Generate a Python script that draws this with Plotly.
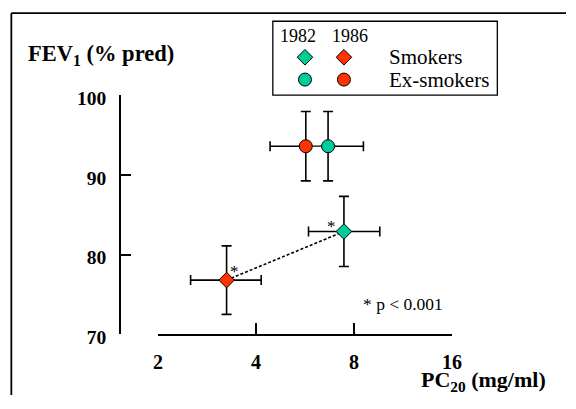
import math
import plotly.graph_objects as go

# ---- data -------------------------------------------------------------
# PC20 (mg/ml) and FEV1 (% predicted), order: [1982, 1986]
smokers_pc20 = [7.45, 3.25]
smokers_pc20_lo = [5.80, 2.52]
smokers_pc20_hi = [9.60, 4.15]
smokers_fev1 = [82.9, 76.8]
smokers_fev1_err = [4.4, 4.3]

exsmokers_pc20 = [6.66, 5.69]
exsmokers_pc20_lo = [6.66, 4.42]   # 1982 whisker drawn to the right only
exsmokers_pc20_hi = [8.55, 5.69]   # 1986 whisker drawn to the left only
exsmokers_fev1 = [93.6, 93.6]
exsmokers_fev1_err = [4.35, 4.35]

years = ["1982", "1986"]
groups = ["Smokers", "Ex-smokers"]
x_ticks = [2, 4, 8, 16]
y_ticks = [70, 80, 90, 100]

# ---- styling ------------------------------------------------------------
W, H = 576, 409
GREEN = "#00CC99"
RED = "#FF3300"
year_colors = [GREEN, RED]
FONT = "Liberation Serif"


def px(x):
    return x / W


def py(y):
    return 1 - y / H


fig = go.Figure()

# dotted link between the two smokers' measurements
fig.add_trace(go.Scatter(
    x=smokers_pc20[::-1], y=smokers_fev1[::-1], mode="lines",
    line=dict(color="black", width=1.6, dash="3px,2px"),
    hoverinfo="skip", showlegend=False, cliponaxis=False))

# thin link between the two ex-smokers' markers
fig.add_trace(go.Scatter(
    x=exsmokers_pc20, y=exsmokers_fev1, mode="lines",
    line=dict(color="black", width=1.2),
    hoverinfo="skip", showlegend=False, cliponaxis=False))


def group_trace(xs, lo, hi, ys, yerr, symbol, size, name):
    return go.Scatter(
        x=xs, y=ys, mode="markers", name=name,
        marker=dict(symbol=symbol, size=size, color=year_colors,
                    line=dict(color="black", width=1)),
        error_x=dict(type="data", symmetric=False,
                     array=[h - x for h, x in zip(hi, xs)],
                     arrayminus=[x - l for l, x in zip(lo, xs)],
                     color="black", thickness=1.6, width=5),
        error_y=dict(type="data", array=yerr, color="black",
                     thickness=1.6, width=5),
        showlegend=False, cliponaxis=False)


fig.add_trace(group_trace(exsmokers_pc20, exsmokers_pc20_lo, exsmokers_pc20_hi,
                          exsmokers_fev1, exsmokers_fev1_err,
                          "circle", 13, groups[1]))
fig.add_trace(group_trace(smokers_pc20, smokers_pc20_lo, smokers_pc20_hi,
                          smokers_fev1, smokers_fev1_err,
                          "diamond", 12, groups[0]))

# key markers drawn on a pixel-scaled axis pair covering the whole page
key_x = [308, 348]
key_rows = [53, 76.5]
for sym, size, ky in zip(["diamond", "circle"], [12, 13], key_rows):
    fig.add_trace(go.Scatter(
        x=key_x, y=[ky, ky], xaxis="x2", yaxis="y2", mode="markers",
        marker=dict(symbol=sym, size=size, color=year_colors,
                    line=dict(color="black", width=1)),
        hoverinfo="skip", showlegend=False, cliponaxis=False))


def note(x, y, text, size=19, xanchor="center", xref="paper", yref="paper",
         **kw):
    return dict(x=x, y=y, xref=xref, yref=yref, text=text, showarrow=False,
                xanchor=xanchor, yanchor="middle",
                font=dict(family=FONT, size=size, color="black"), **kw)


annotations = [
    # significance asterisks
    note(math.log10(smokers_pc20[0]), smokers_fev1[0], "*", 17,
         xref="x", yref="y", xshift=-12, yshift=5),
    note(math.log10(smokers_pc20[1]), smokers_fev1[1], "*", 17,
         xref="x", yref="y", xshift=8, yshift=9),
    note(px(409), py(313), "* p < 0.001", 17.5),
    # axis titles
    note(px(22), py(51), "<b>FEV<sub>1</sub> (% pred)</b>", 22.5, "left"),
    note(px(558), py(394), "<b>PC<sub>20</sub> (mg/ml)</b>", 22, "right"),
]
# key text
for yr, kx in zip(years, [301, 354]):
    annotations.append(note(px(kx), py(31), yr, 18))
for g, ky in zip(groups, key_rows):
    annotations.append(note(px(392), py(ky), g, 21, "left"))

shapes = [
    # key box
    dict(type="rect", xref="paper", yref="paper",
         x0=px(275), x1=px(505.5), y0=py(15), y1=py(93),
         line=dict(color="black", width=1.3)),
    # outer frame (top and left edges)
    dict(type="line", xref="paper", yref="paper",
         x0=px(6.5), x1=1.0, y0=py(6.5), y1=py(6.5),
         line=dict(color="black", width=1.8)),
    dict(type="line", xref="paper", yref="paper",
         x0=px(6.5), x1=px(6.5), y0=py(6.5), y1=0,
         line=dict(color="black", width=1.8)),
]

fig.update_layout(
    width=W, height=H,
    margin=dict(l=0, r=0, t=0, b=0),
    paper_bgcolor="white", plot_bgcolor="rgba(0,0,0,0)",
    font=dict(family=FONT, color="black"),
    xaxis=dict(type="log", range=[math.log10(2), math.log10(16)],
               domain=[px(157), px(459)], anchor="y",
               tickvals=x_ticks, ticktext=[str(v) for v in x_ticks],
               ticks="inside", ticklen=12, tickwidth=1.5, tickcolor="black",
               showline=True, linecolor="black", linewidth=1.5,
               showgrid=False, zeroline=False, ticklabelstandoff=9,
               tickfont=dict(family=FONT, size=20, weight="bold")),
    yaxis=dict(range=[70, 100], domain=[py(345), py(93)],
               anchor="free", position=px(118),
               tickvals=y_ticks, ticktext=[str(v) for v in y_ticks],
               ticks="inside", ticklen=10, tickwidth=1.5, tickcolor="black",
               showline=True, linecolor="black", linewidth=1.5,
               showgrid=False, zeroline=False, ticklabelstandoff=9,
               ticklabelshift=3,
               tickfont=dict(family=FONT, size=19.5, weight="bold")),
    xaxis2=dict(range=[0, W], domain=[0, 1], anchor="y2", visible=False),
    yaxis2=dict(range=[H, 0], domain=[0, 1], anchor="x2", visible=False),
    annotations=annotations,
    shapes=shapes,
    showlegend=False,
)

fig.write_html("out.html")
